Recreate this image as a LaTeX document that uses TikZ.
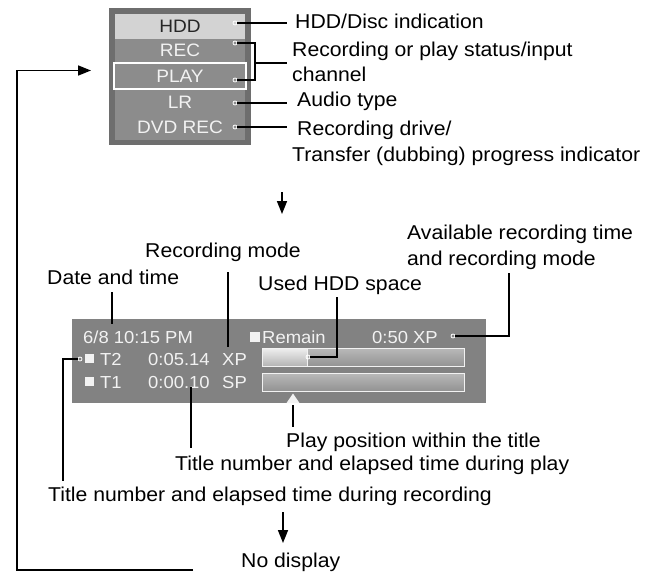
\documentclass[tikz,border=0pt]{standalone}
\usepackage{fontspec}
\setmainfont{Liberation Sans}[FakeStretch=1.06]
\usetikzlibrary{arrows.meta}
\definecolor{outerg}{HTML}{6E6E6E}
\definecolor{innerg}{HTML}{8C8C8C}
\definecolor{hddg}{HTML}{D3D3D3}
\definecolor{panelg}{HTML}{828282}
\definecolor{ptext}{HTML}{F2F2F2}
\begin{document}
\begin{tikzpicture}[x=1pt,y=-1pt,
  lbl/.style={anchor=base west,inner sep=0pt,font=\fontsize{20}{23}\selectfont},
  ptx/.style={anchor=base west,inner sep=0pt,font=\fontsize{17.4}{20}\selectfont,text=ptext},
  boxtx/.style={anchor=base,inner sep=0pt,font=\fontsize{18}{20}\selectfont,text=ptext},
  lead/.style={line width=1.7pt,black},
  tipc/.style={circle,draw=white,line width=0.8pt,minimum size=4pt,inner sep=0pt},
  arr/.style={line width=1.7pt,-{Triangle[length=13pt,width=10pt]}},
  sq/.style={fill=ptext}]
\useasboundingbox (0,0) rectangle (658,571);
% ---------- top box ----------
\fill[outerg] (109,8) rectangle (251,145);
\fill[innerg] (115,14) rectangle (245,140);
\fill[hddg] (115,14) rectangle (245,39);
\draw[white,line width=1.6pt] (114,63) rectangle (246,89);
\node[boxtx,text=black!85] (thdd) at (180,32) {HDD};
\node[boxtx] (trec) at (180,56) {REC};
\node[boxtx] (tplay) at (180,82) {PLAY};
\node[boxtx] (tlr) at (180,108) {LR};
\node[boxtx] (tdvd) at (180,133) {DVD REC};
% tips
\node[tipc] (c1) at (235,23) {};
\node[tipc] (c2) at (235,43) {};
\node[tipc] (c3) at (235,80) {};
\node[tipc] (c4) at (235,103) {};
\node[tipc] (c5) at (235,127) {};
% labels
\node[lbl] (l1) at (295,28) {HDD/Disc indication};
\node[lbl] (l2) at (292,56.5) {Recording or play status/input};
\node[lbl] (l2b) at (292,81.5) {channel};
\node[lbl] (l3) at (297,106) {Audio type};
\node[lbl] (l4) at (297,135) {Recording drive/};
\node[lbl] (l4b) at (292,161) {Transfer (dubbing) progress indicator};
\coordinate (e1) at (287,23);
\coordinate (e2) at (287,63);
\coordinate (e3) at (287,103);
\coordinate (e4) at (287,127);
\draw[lead] (c1.east) -- (e1);
\draw[lead] (c2.east) -- (255,43) -- (255,80) -- (c3.east);
\draw[lead] (255,63) -- (e2);
\draw[lead] (c4.east) -- (e3);
\draw[lead] (c5.east) -- (e4);
% arrow down 1
\coordinate (a1s) at (282,192);
\coordinate (a1e) at (282,214);
\draw[arr] (a1s) -- (a1e);
% ---------- lower panel ----------
\fill[panelg] (72,319) rectangle (486,403);
\shade[top color=gray!55,bottom color=gray!115!black,draw=white!90!gray,line width=0.9pt] (262,348) rectangle (464,366.5);
\shade[top color=white!88!gray,bottom color=gray!60,draw=white!90!gray,line width=0.9pt] (262,348) rectangle (307,366.5);
\shade[top color=gray!55,bottom color=gray!115!black,draw=white!90!gray,line width=0.9pt] (262,373) rectangle (464,391);
\fill[ptext] (286.5,403) -- (293,393.5) -- (299.5,403) -- cycle;
\node[ptx] (pdate) at (83,343) {6/8 10:15 PM};
\fill[sq] (250,332) rectangle (260,342);
\node[ptx] (prem) at (262,343) {Remain};
\node[ptx] (pavail) at (372,343) {0:50\hspace{5pt}XP};
\fill[sq] (85,354) rectangle (94,363);
\node[ptx] (pt2) at (100,365) {T2};
\node[ptx] (ptime2) at (148,365) {0:05.14};
\node[ptx] (pxp) at (222,365) {XP};
\fill[sq] (85,377) rectangle (94,386);
\node[ptx] (pt1) at (100,388) {T1};
\node[ptx] (ptime1) at (148,388) {0:00.10};
\node[ptx] (psp) at (222,388) {SP};
% lower labels
\node[lbl] (lrm) at (145,257) {Recording mode};
\node[lbl] (ldt) at (47,284) {Date and time};
\node[lbl] (lused) at (258,290) {Used HDD space};
\node[lbl] (lav1) at (407,239) {Available recording time};
\node[lbl] (lav2) at (407,265) {and recording mode};
\node[lbl] (lpp) at (286,447) {Play position within the title};
\node[lbl] (ltp) at (175,470) {Title number and elapsed time during play};
\node[lbl] (ltr) at (48,501) {Title number and elapsed time during recording};
\node[lbl] (lnd) at (241,567) {No display};
% lower leaders
\node[tipc] (cav) at (453,336) {};
\node[tipc] (cused) at (308,357) {};
\node[tipc] (crec) at (80,359) {};
\draw[lead] (112,292) -- (112,324);
\draw[lead] (228,272) -- (228,347);
\draw[lead] (337,297) -- (337,357) -- (cused.east);
\draw[lead] (cav.east) -- (509,336) -- (509,273);
\draw[lead] (crec.west) -- (63,359) -- (63,481);
\draw[lead] (191,387) -- (191,448);
\draw[lead] (293,405) -- (293,427);
% arrow down 2
\coordinate (a2s) at (283,512);
\coordinate (a2e) at (283,543);
\draw[arr] (a2s) -- (a2e);
% loop back
\coordinate (lb1) at (193,570);
\coordinate (lb2) at (17,570);
\coordinate (lb3) at (17,70.5);
\coordinate (lb4) at (91,70.5);
\draw[arr] (lb1) -- (lb2) -- (lb3) -- (lb4);
\end{tikzpicture}
\end{document}
